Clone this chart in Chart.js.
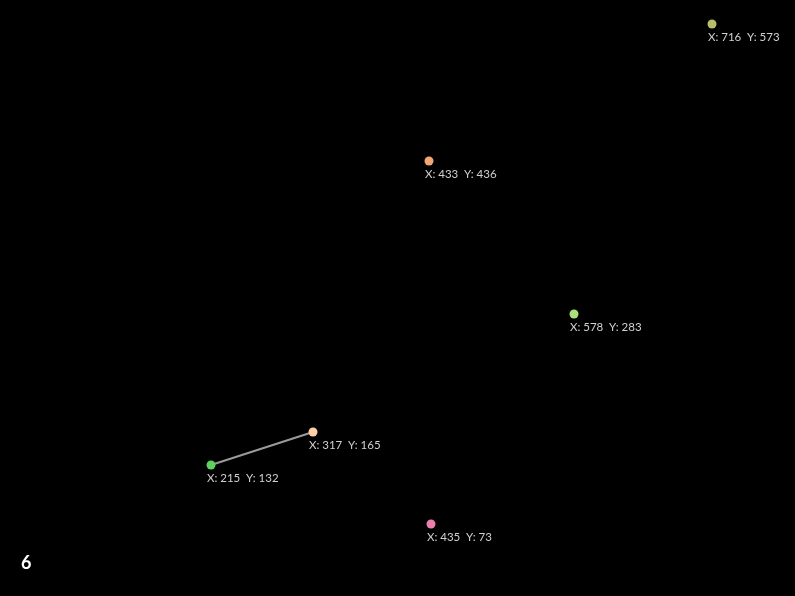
<!DOCTYPE html>
<html><head><meta charset="utf-8">
<script src="https://cdn.jsdelivr.net/npm/chart.js@4/dist/chart.umd.min.js"></script>
<style>
html,body{margin:0;padding:0;background:#000;overflow:hidden;}
#wrap{position:relative;width:795px;height:596px;}
#num{position:absolute;left:21px;top:551px;color:#fff;font:bold 18px "Lato","Open Sans",sans-serif;}
</style></head>
<body>
<div id="wrap"><canvas id="c" width="795" height="596"></canvas><div id="num">6</div></div>
<script>
const xValues = [716, 433, 578, 317, 215, 435];
const yValues = [573, 436, 283, 165, 132, 73];
const pointColors = ['#b7bf6a', '#f5a673', '#a9e27a', '#ffcfa6', '#5cd35c', '#ea7fae'];
const linkFrom = [3];
const linkTo = [4];

const pointData = xValues.map((x, i) => ({x: x, y: yValues[i]}));
const datasets = [];
linkFrom.forEach((a, k) => {
  const b = linkTo[k];
  datasets.push({
    type: 'scatter', showLine: true,
    data: [{x: xValues[a], y: yValues[a]}, {x: xValues[b], y: yValues[b]}],
    borderColor: '#9a9a9a', borderWidth: 2, pointRadius: 0, order: 2
  });
});
datasets.push({
  type: 'scatter', data: pointData,
  backgroundColor: pointColors, borderWidth: 0, pointRadius: 4.5, order: 1
});

const labelPlugin = {
  id: 'labels',
  afterDatasetsDraw(chart) {
    const ctx = chart.ctx;
    const xs = chart.scales.x, ys = chart.scales.y;
    ctx.save();
    ctx.fillStyle = '#d0d0d0';
    ctx.font = '11.5px "Lato", "Open Sans", sans-serif';
    ctx.textBaseline = 'alphabetic';
    xValues.forEach((x, i) => {
      const px = xs.getPixelForValue(x), py = ys.getPixelForValue(yValues[i]);
      ctx.fillText('X: ' + x, px - 4, py + 17);
      ctx.fillText('Y: ' + yValues[i], px + 35, py + 17);
    });
    ctx.restore();
  }
};

new Chart(document.getElementById('c'), {
  type: 'scatter',
  data: {datasets},
  options: {
    responsive: false, animation: false,
    layout: {padding: 0},
    plugins: {legend: {display: false}, tooltip: {enabled: false}},
    scales: {
      x: {type: 'linear', display: false, min: 8.5, max: 794.5},
      y: {type: 'linear', display: false, min: 5.5, max: 592.5}
    }
  },
  plugins: [labelPlugin]
});
</script>
</body></html>
